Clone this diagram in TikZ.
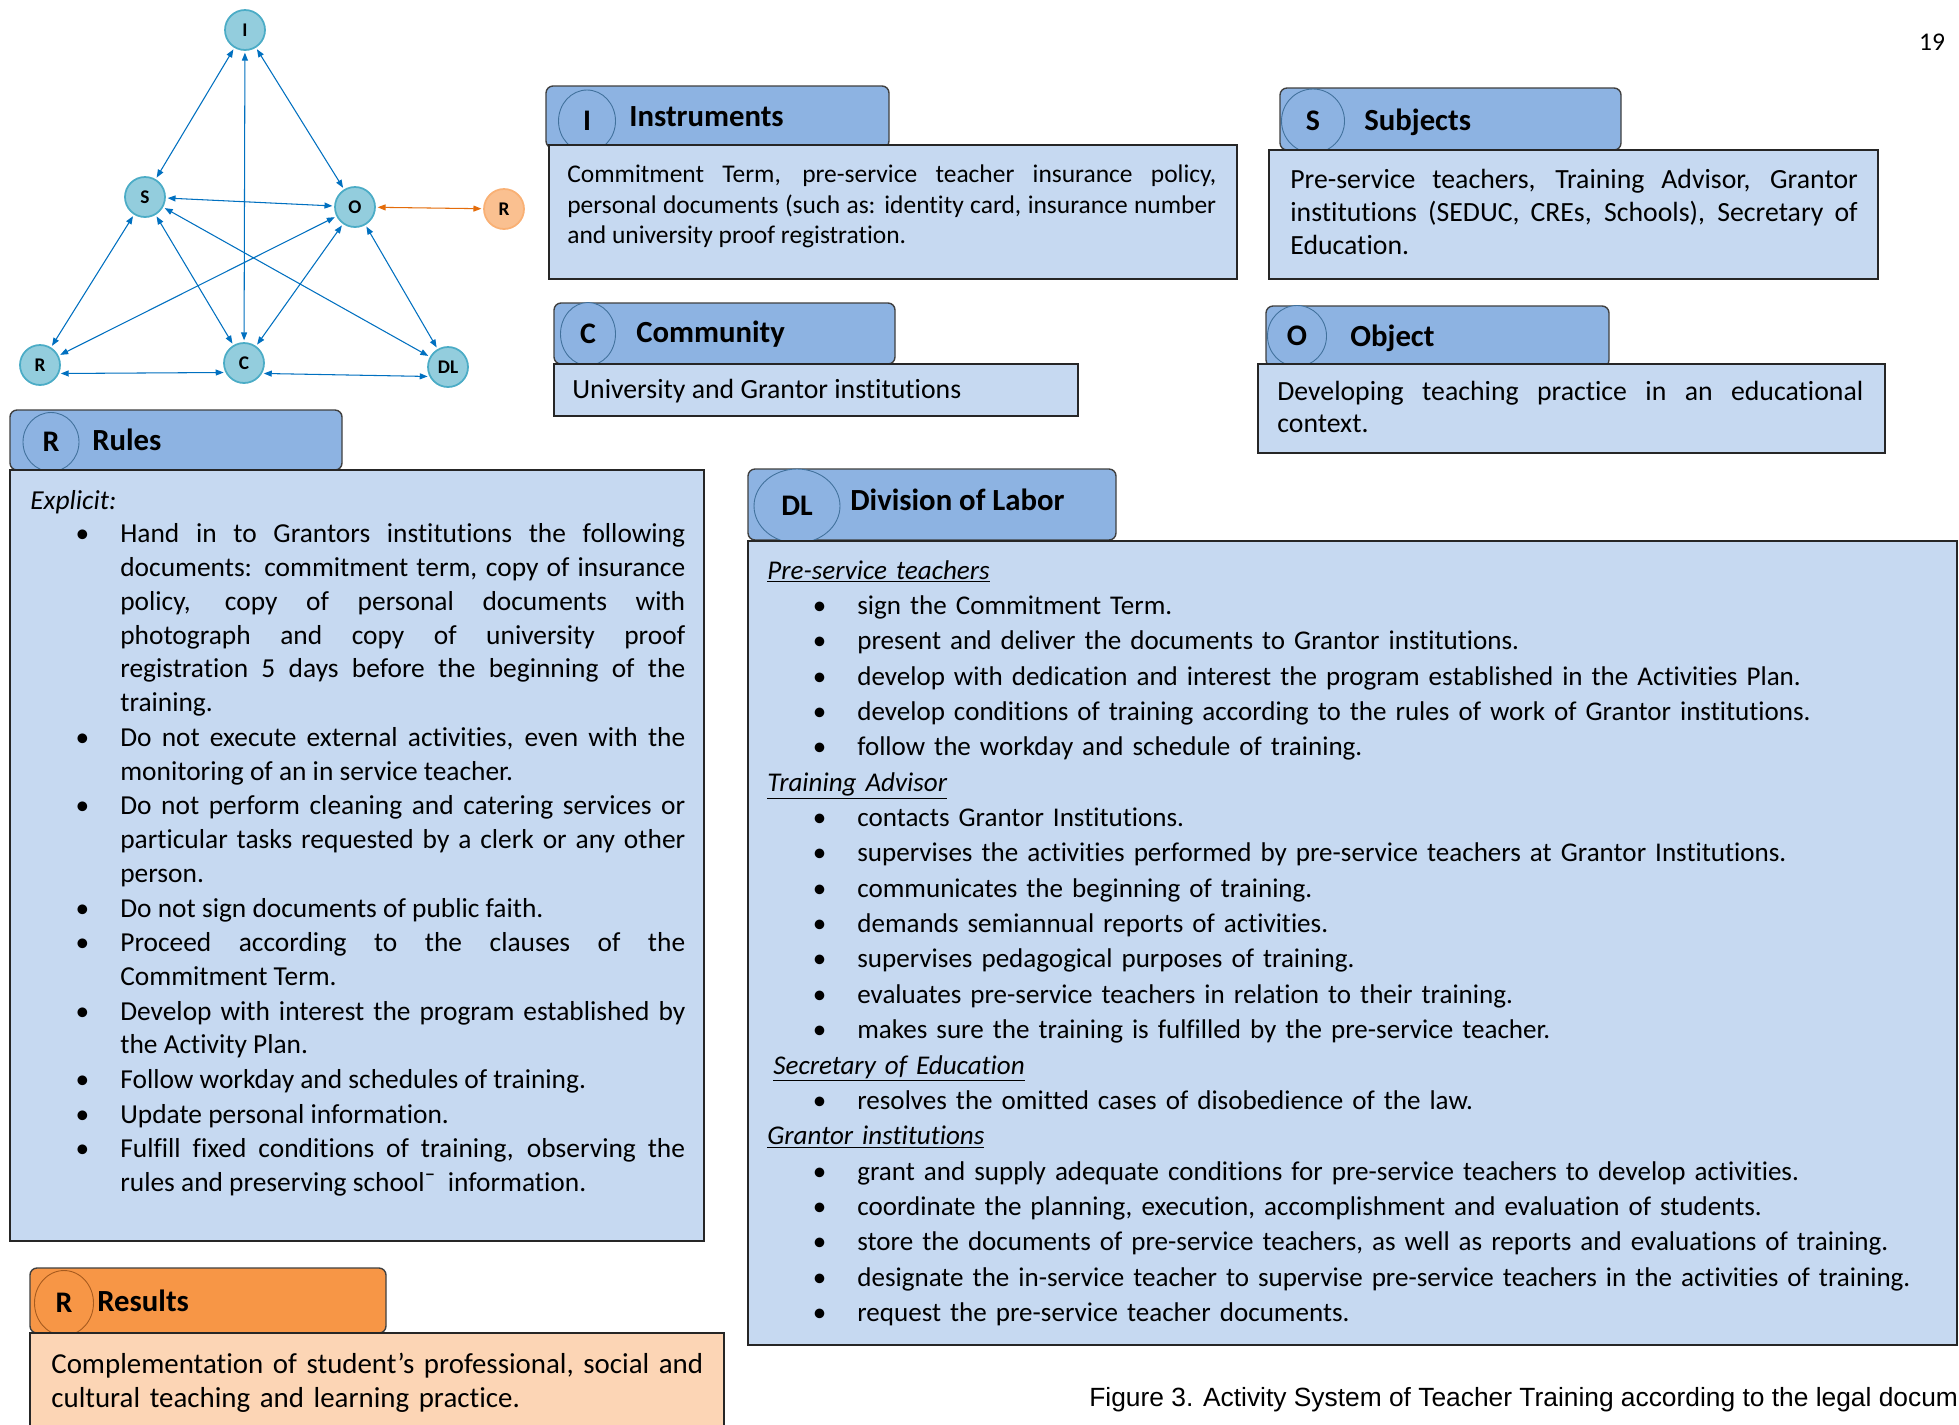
\documentclass[tikz,border=0pt]{standalone}
\usepackage{fontspec}
\setmainfont{Carlito}[Ligatures=NoCommon]
\newfontfamily\captionfont{Liberation Sans}
\usepackage{enumitem}
\usetikzlibrary{arrows.meta,shapes.geometric}
\setlength{\parindent}{0pt}
\setlist[itemize]{label=\textbullet,leftmargin=1.8cm,labelsep=0.62cm,nosep}

\definecolor{nodefill}{HTML}{93CDDD}
\definecolor{nodeline}{HTML}{4BACC6}
\definecolor{linkblue}{HTML}{0070C0}
\definecolor{resnodefill}{HTML}{FAC090}
\definecolor{resnodeline}{HTML}{F9B074}
\definecolor{reslink}{HTML}{E46C0A}
\definecolor{headfill}{HTML}{8DB3E2}
\definecolor{ringline}{HTML}{41719C}
\definecolor{bodyfill}{HTML}{C6D9F1}
\definecolor{resheadfill}{HTML}{F79646}
\definecolor{resring}{HTML}{A65A1E}
\definecolor{resbodyfill}{HTML}{FCD5B5}

\tikzset{
  gnode/.style={circle,draw=nodeline,fill=nodefill,line width=1pt,minimum size=0.8cm,inner sep=0pt,font=\fontsize{11}{11}\selectfont\bfseries},
  rnode/.style={gnode,draw=resnodeline,fill=resnodefill},
  link/.style={{Triangle[length=4.5pt,width=3.4pt]}-{Triangle[length=4.5pt,width=3.4pt]},draw=linkblue,line width=0.6pt,shorten <=1pt,shorten >=1pt},
  rlink/.style={link,draw=reslink},
  headbox/.style={draw=black!75,fill=headfill,rounded corners=4pt,line width=0.8pt},
  bodybox/.style={draw=black!85,fill=bodyfill,line width=1pt},
  ring/.style={ellipse,draw=ringline,fill=headfill,line width=0.5pt,inner sep=0pt,font=\fontsize{17}{20}\selectfont\bfseries},
  title/.style={anchor=base west,inner sep=0pt,font=\fontsize{17.5}{20}\selectfont\bfseries},
  bodytext/.style={anchor=north west,inner sep=0pt,align=justify,execute at begin node=\strut},
}

\begin{document}
\begin{tikzpicture}[x=0.02cm,y=-0.02cm]
\fill[white] (0,0) rectangle (1959,1424);
\useasboundingbox (0,0) rectangle (1959,1424);

\node at (245,30) [gnode] (i) {I};
\node at (145,197) [gnode] (s) {S};
\node at (355,207) [gnode] (o) {O};
\node at (504,209) [rnode] (res) {R};
\node at (40,365) [gnode] (r) {R};
\node at (244,363) [gnode] (c) {C};
\node at (448,367) [gnode] (dl) {DL};
\draw[link] (i) -- (s);
\draw[link] (i) -- (c);
\draw[link] (i) -- (o);
\draw[link] (s) -- (o);
\draw[link] (s) -- (c);
\draw[link] (s) -- (dl);
\draw[link] (s) -- (r);
\draw[link] (o) -- (r);
\draw[link] (o) -- (c);
\draw[link] (o) -- (dl);
\draw[link] (r.-24) -- (c.-153);
\draw[link] (c.-30) -- (dl.-153);
\draw[rlink] (o) -- (res);

\draw[headbox] (546,86) rectangle (889,148);
\node at (587,121) [ring,minimum width=1.14cm,minimum height=1.24cm] (iring) {I};
\node at (629,126) [title] (ititle) {Instruments};
\draw[bodybox] (549,145) rectangle (1237,279);
\node at (567,160.5) [bodytext,text width=12.98cm,font=\fontsize{14.5}{17.47}\selectfont] (itext)
  {Commitment Term, pre-service teacher insurance policy,\linebreak personal documents (such as: identity card, insurance number\linebreak and university proof registration.};

\draw[headbox] (1280,88) rectangle (1621,150);
\node at (1313,121) [ring,minimum width=1.26cm,minimum height=1.28cm] (sring) {S};
\node at (1364,130) [title] (stitle) {Subjects};
\draw[bodybox] (1269,150) rectangle (1878,279);
\node at (1290,165) [bodytext,text width=11.35cm,font=\fontsize{15.8}{18.78}\selectfont] (stext)
  {Pre-service teachers, Training Advisor, Grantor\linebreak institutions (SEDUC, CREs, Schools), Secretary of\linebreak Education.};

\draw[headbox] (554,303) rectangle (895,364);
\node at (588,334) [ring,minimum width=1.1cm,minimum height=1.26cm] (cring) {C};
\node at (636,342) [title] (ctitle) {Community};
\draw[bodybox] (554,364) rectangle (1078,416);
\node at (572,375) [bodytext,font=\fontsize{15.8}{18.78}\selectfont] (ctext)
  {University and Grantor institutions};

\draw[headbox] (1266,306) rectangle (1609,367);
\node at (1297,336) [ring,minimum width=1.18cm,minimum height=1.22cm] (oring) {O};
\node at (1350,346) [title] (otitle) {Object};
\draw[bodybox] (1258,364) rectangle (1885,453);
\node at (1277,377.5) [bodytext,text width=11.72cm,font=\fontsize{15.8}{18.2}\selectfont] (otext)
  {Developing teaching practice in an educational\linebreak context.};

\draw[headbox] (10,410) rectangle (342,470);
\node at (51,442) [ring,minimum width=1.12cm,minimum height=1.18cm] (rring) {R};
\node at (92,450) [title] (rtitle) {Rules};
\draw[bodybox] (10,470) rectangle (704,1241);
\node at (30,485) [bodytext,text width=13.1cm,font=\fontsize{15.6}{19.23}\selectfont] (rtext)
  {\textit{Explicit:}
  \begin{itemize}[itemsep=0.5pt]
  \item Hand in to Grantors institutions the following\linebreak documents: commitment term, copy of insurance\linebreak policy, copy of personal documents with\linebreak photograph and copy of university proof\linebreak registration 5 days before the beginning of the\linebreak training.
  \item Do not execute external activities, even with the\linebreak monitoring of an in service teacher.
  \item Do not perform cleaning and catering services or\linebreak particular tasks requested by a clerk or any other\linebreak person.
  \item Do not sign documents of public faith.
  \item Proceed according to the clauses of the\linebreak Commitment Term.
  \item Develop with interest the program established by\linebreak the Activity Plan.
  \item Follow workday and schedules of training.
  \item Update personal information.
  \item Fulfill fixed conditions of training, observing the\linebreak rules and preserving school¯ \ information.
  \end{itemize}};

\draw[headbox] (748,469) rectangle (1116,540);
\node at (797,506) [ring,minimum width=1.72cm,minimum height=1.48cm] (dlring) {DL};
\node at (850,510) [title] (dltitle) {Division of Labor};
\draw[bodybox] (748,541) rectangle (1957,1345);
\node at (767,554) [bodytext,align=left,text width=23.6cm,font=\fontsize{15.4}{20.12}\selectfont] (dltext)
  {\underline{\textit{Pre-service teachers}}
  \begin{itemize}
  \item sign the Commitment Term.
  \item present and deliver the documents to Grantor institutions.
  \item develop with dedication and interest the program established in the Activities Plan.
  \item develop conditions of training according to the rules of work of Grantor institutions.
  \item follow the workday and schedule of training.
  \end{itemize}
  \underline{\textit{Training Advisor}}
  \begin{itemize}
  \item contacts Grantor Institutions.
  \item supervises the activities performed by pre-service teachers at Grantor Institutions.
  \item communicates the beginning of training.
  \item demands semiannual reports of activities.
  \item supervises pedagogical purposes of training.
  \item evaluates pre-service teachers in relation to their training.
  \item makes sure the training is fulfilled by the pre-service teacher.
  \end{itemize}
  \hspace*{0.12cm}\underline{\textit{Secretary of Education}}
  \begin{itemize}
  \item resolves the omitted cases of disobedience of the law.
  \end{itemize}
  \underline{\textit{Grantor institutions}}
  \begin{itemize}
  \item grant and supply adequate conditions for pre-service teachers to develop activities.
  \item coordinate the planning, execution, accomplishment and evaluation of students.
  \item store the documents of pre-service teachers, as well as reports and evaluations of training.
  \item designate the in-service teacher to supervise pre-service teachers in the activities of training.
  \item request the pre-service teacher documents.
  \end{itemize}};

\draw[headbox,fill=resheadfill] (30,1268) rectangle (386,1333);
\node at (64,1303) [ring,draw=resring,fill=resheadfill,minimum width=1.18cm,minimum height=1.3cm] (resring) {R};
\node at (97,1311) [title] (restitle) {Results};
\draw[bodybox,fill=resbodyfill] (30,1333) rectangle (724,1440);
\node at (51,1349) [bodytext,align=left,text width=13.6cm,font=\fontsize{16.45}{19.35}\selectfont] (restext)
  {Complementation of student’s professional, social and\\cultural teaching and learning practice.};

\node at (1089,1406) [anchor=base west,inner sep=0pt,font=\captionfont\fontsize{15}{18}\selectfont] (caption)
  {Figure 3. Activity System of Teacher Training according to the legal docum};
\node at (1932,50) [anchor=base,inner sep=0pt,font=\fontsize{14.5}{17}\selectfont] (pagenum) {19};
\end{tikzpicture}
\end{document}
